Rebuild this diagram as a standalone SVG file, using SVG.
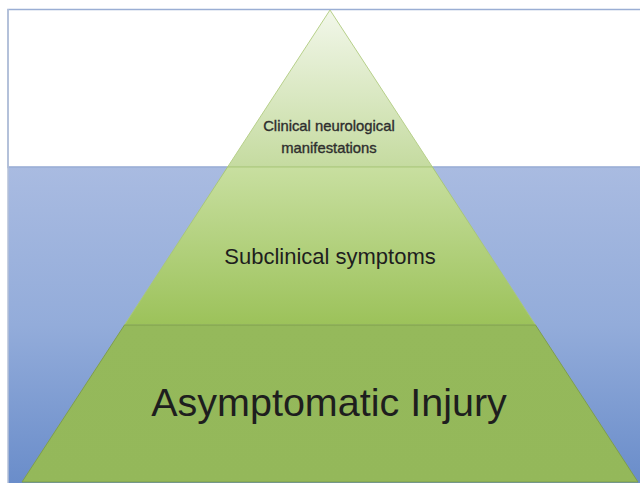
<svg xmlns="http://www.w3.org/2000/svg" width="640" height="483" viewBox="0 0 640 483">
<defs>
<linearGradient id="water" x1="0" y1="0" x2="0" y2="1">
<stop offset="0" stop-color="#a9bbe1"/>
<stop offset="0.5" stop-color="#93acda"/>
<stop offset="1" stop-color="#6a8dca"/>
</linearGradient>
<linearGradient id="g1" gradientUnits="userSpaceOnUse" x1="0" y1="10" x2="0" y2="167">
<stop offset="0" stop-color="#f2f7ea"/>
<stop offset="1" stop-color="#c5dba0"/>
</linearGradient>
<linearGradient id="g2" gradientUnits="userSpaceOnUse" x1="0" y1="167" x2="0" y2="325">
<stop offset="0" stop-color="#c8dfa0"/>
<stop offset="1" stop-color="#9cc25a"/>
</linearGradient>
<linearGradient id="g3" gradientUnits="userSpaceOnUse" x1="0" y1="325" x2="0" y2="483">
<stop offset="0" stop-color="#95b95b"/>
<stop offset="1" stop-color="#94b85a"/>
</linearGradient>
<style>
.t{font-family:"Liberation Sans",Arial,sans-serif;text-anchor:middle;fill:#1e1e1e}
.small{font-size:14.8px;fill:#2e2e2e;stroke:#2e2e2e;stroke-width:0.35}
</style>
</defs>
<rect x="0" y="0" width="640" height="483" fill="#ffffff"/>
<g id="background">
<rect x="8" y="9.5" width="640" height="158" fill="#ffffff" stroke="#9aaed4" stroke-width="1.5"/>
<rect x="8" y="167" width="632" height="316" fill="url(#water)"/>
<line x1="8" y1="167" x2="640" y2="167" stroke="#9aaed4" stroke-width="1.5"/>
<line x1="8" y1="9" x2="8" y2="483" stroke="#b4c0d8" stroke-width="1.5"/>
</g>
<g id="tier-top">
<polygon points="330,10 227.6,167 432.4,167" fill="url(#g1)" stroke="#b7d08a" stroke-width="1"/>
<text class="t small" x="329" y="131">Clinical neurological</text>
<text class="t small" x="329" y="153">manifestations</text>
</g>
<g id="tier-middle">
<polygon points="227.6,167 432.4,167 535.5,325 124.5,325" fill="url(#g2)" stroke="#a9c77a" stroke-width="1"/>
<text class="t" x="330" y="264" font-size="22">Subclinical symptoms</text>
</g>
<g id="tier-bottom">
<polygon points="124.5,325 535.5,325 638,482 22,482" fill="url(#g3)" stroke="#7f9f4c" stroke-width="1"/>
<text class="t" x="329" y="416" font-size="39.5">Asymptomatic Injury</text>
</g>
</svg>
